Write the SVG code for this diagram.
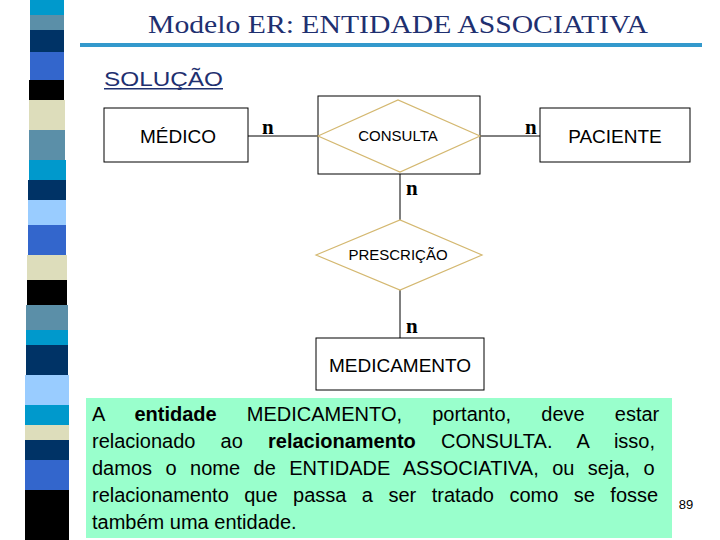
<svg xmlns="http://www.w3.org/2000/svg" width="720" height="540" viewBox="0 0 720 540">
<style>
.box{fill:#fff;stroke:#000;stroke-width:1}
.dia{fill:none;stroke:#D4B870;stroke-width:1.2}
.t{font-family:"Liberation Sans",Arial,sans-serif;fill:#000}
.n{font-family:"Liberation Serif",serif;font-weight:bold;font-size:21px}
.p{font-family:"Liberation Sans",Arial,sans-serif;font-size:20px}
</style>
<rect width="720" height="540" fill="#fff"/>
<g id="stripes">
<rect x="30" y="0" width="34" height="15" fill="#0099CC"/>
<rect x="30" y="15" width="34" height="15" fill="#5B8FA8"/>
<rect x="30" y="30" width="34" height="22" fill="#003366"/>
<rect x="30" y="52" width="34" height="28" fill="#3366CC"/>
<rect x="29" y="80" width="35" height="20" fill="#000"/>
<rect x="29" y="100" width="36" height="30" fill="#DDDDBB"/>
<rect x="29" y="130" width="36" height="30" fill="#5B8FA8"/>
<rect x="29" y="160" width="37" height="20" fill="#0099CC"/>
<rect x="28" y="180" width="38" height="20" fill="#003366"/>
<rect x="28" y="200" width="38" height="25" fill="#99CCFF"/>
<rect x="28" y="225" width="38" height="30" fill="#3366CC"/>
<rect x="27" y="255" width="40" height="25" fill="#DDDDBB"/>
<rect x="27" y="280" width="40" height="25" fill="#000"/>
<rect x="26" y="305" width="42" height="25" fill="#5B8FA8"/>
<rect x="26" y="330" width="42" height="15" fill="#0099CC"/>
<rect x="26" y="345" width="42" height="30" fill="#003366"/>
<rect x="25" y="375" width="44" height="30" fill="#99CCFF"/>
<rect x="25" y="405" width="44" height="20" fill="#0099CC"/>
<rect x="25" y="425" width="44" height="15" fill="#DDDDBB"/>
<rect x="25" y="440" width="44" height="20" fill="#003366"/>
<rect x="25" y="460" width="44" height="30" fill="#3366CC"/>
<rect x="25" y="490" width="44" height="50" fill="#000"/>
</g>
<text x="398" y="33" text-anchor="middle" font-family="Liberation Serif,serif" font-size="26" fill="#1F3070" textLength="500" lengthAdjust="spacingAndGlyphs">Modelo ER: ENTIDADE ASSOCIATIVA</text>
<rect x="80" y="43" width="622" height="4" fill="#3399CC"/>
<text x="104" y="86" class="t" font-size="21" style="fill:#1F3070" textLength="119" lengthAdjust="spacingAndGlyphs">SOLUÇÃO</text>
<rect x="104" y="88" width="119" height="1.5" fill="#1F3070"/>
<g id="connectors" stroke="#000" stroke-width="1">
<line x1="248" y1="136" x2="318" y2="136"/>
<line x1="480" y1="136" x2="540" y2="136"/>
<line x1="400" y1="174" x2="400" y2="220"/>
<line x1="400" y1="290" x2="400" y2="338"/>
</g>
<text x="262" y="134" class="n">n</text>
<text x="525" y="134" class="n">n</text>
<text x="406" y="195" class="n">n</text>
<text x="406" y="333" class="n">n</text>
<g id="medico"><rect class="box" x="104" y="108" width="144" height="54"/><text x="178" y="143" class="t" font-size="19" text-anchor="middle">MÉDICO</text></g>
<g id="consulta"><rect class="box" x="318" y="96" width="162" height="78"/><polygon class="dia" points="318,136 398,100 480,136 400,172"/><text x="398" y="141" class="t" font-size="15" text-anchor="middle">CONSULTA</text></g>
<g id="paciente"><rect class="box" x="540" y="108" width="150" height="54"/><text x="615" y="143" class="t" font-size="19" text-anchor="middle">PACIENTE</text></g>
<g id="prescricao"><polygon class="dia" points="316,255 400,220 482,255 400,290"/><text x="398" y="260" class="t" font-size="15" text-anchor="middle">PRESCRIÇÃO</text></g>
<g id="medicamento"><rect class="box" x="316" y="338" width="168" height="52"/><text x="400" y="372" class="t" font-size="19" text-anchor="middle">MEDICAMENTO</text></g>
<g id="note">
<rect x="86" y="398" width="586" height="140" fill="#99FFCC"/>
<text class="p" x="92" y="421" word-spacing="24.6">A <tspan font-weight="bold">entidade</tspan> MEDICAMENTO, portanto, deve estar</text>
<text class="p" x="92" y="448" word-spacing="19.6">relacionado ao <tspan font-weight="bold">relacionamento</tspan> CONSULTA. A isso,</text>
<text class="p" x="92" y="475" word-spacing="7.9">damos o nome de ENTIDADE ASSOCIATIVA, ou seja, o</text>
<text class="p" x="92" y="502" word-spacing="9.9">relacionamento que passa a ser tratado como se fosse</text>
<text class="p" x="92" y="529">também uma entidade.</text>
</g>
<text x="686" y="509" class="t" font-size="13" text-anchor="middle">89</text>
</svg>
